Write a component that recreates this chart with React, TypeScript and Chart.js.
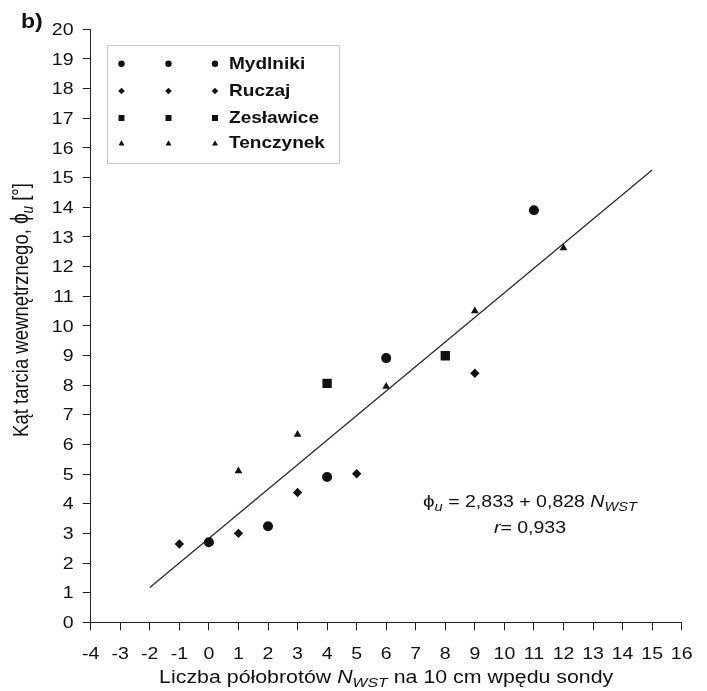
import React, { useEffect, useRef } from "react";
import { Chart, registerables } from "chart.js";

Chart.register(...registerables);

// ---- data ----
const MYDLNIKI_X = [0, 2, 4, 6, 11];
const MYDLNIKI_Y = [2.7, 3.24, 4.9, 8.91, 13.9];
const RUCZAJ_X = [-1, 1, 3, 5, 9];
const RUCZAJ_Y = [2.64, 3.0, 4.38, 5.01, 8.4];
const ZESLAWICE_X = [4, 8];
const ZESLAWICE_Y = [8.06, 8.99];
const TENCZYNEK_X = [1, 3, 6, 9, 12];
const TENCZYNEK_Y = [5.1, 6.33, 7.95, 10.5, 12.62];

const SERIES_NAMES = ["Mydlniki", "Ruczaj", "Zesławice", "Tenczynek"];
const FIT_INTERCEPT = 2.833;
const FIT_SLOPE = 0.828;
const FIT_X_RANGE = [-2, 15];

const X_MIN = -4;
const X_MAX = 16;
const Y_MIN = 0;
const Y_MAX = 20;

const FONT = "'Liberation Sans', Arial, sans-serif";
const INK = "#111";
const STRETCH = 1.22;

const pts = (xs: number[], ys: number[]) => xs.map((x, i) => ({ x, y: ys[i] }));

type Seg = { t: string; size: number; italic?: boolean; bold?: boolean; dy?: number };

function segFont(s: Seg) {
  return `${s.italic ? "italic " : ""}${s.bold ? "bold " : ""}${s.size}px ${FONT}`;
}

// draws segments centred on cx, alphabetic baseline at by, horizontally stretched by sx
function drawRich(ctx: CanvasRenderingContext2D, segs: Seg[], cx: number, by: number, sx: number) {
  let total = 0;
  for (const s of segs) {
    ctx.font = segFont(s);
    total += ctx.measureText(s.t).width;
  }
  ctx.save();
  ctx.translate(cx - (total * sx) / 2, by);
  ctx.scale(sx, 1);
  ctx.textBaseline = "alphabetic";
  ctx.textAlign = "left";
  let x = 0;
  for (const s of segs) {
    ctx.font = segFont(s);
    ctx.fillText(s.t, x, s.dy || 0);
    x += ctx.measureText(s.t).width;
  }
  ctx.restore();
}

function drawText(
  ctx: CanvasRenderingContext2D,
  t: string,
  x: number,
  by: number,
  font: string,
  align: CanvasTextAlign,
  sx: number
) {
  ctx.save();
  ctx.translate(x, by);
  ctx.scale(sx, 1);
  ctx.font = font;
  ctx.textAlign = align;
  ctx.textBaseline = "alphabetic";
  ctx.fillText(t, 0, 0);
  ctx.restore();
}

function drawMarker(ctx: CanvasRenderingContext2D, style: string, x: number, y: number, r: number) {
  ctx.beginPath();
  if (style === "circle") {
    ctx.arc(x, y, r, 0, Math.PI * 2);
  } else if (style === "rectRot") {
    ctx.moveTo(x, y - r);
    ctx.lineTo(x + r, y);
    ctx.lineTo(x, y + r);
    ctx.lineTo(x - r, y);
    ctx.closePath();
  } else if (style === "rect") {
    ctx.rect(x - r, y - r, 2 * r, 2 * r);
  } else {
    ctx.moveTo(x, y - r * 1.1);
    ctx.lineTo(x + r, y + r * 0.7);
    ctx.lineTo(x - r, y + r * 0.7);
    ctx.closePath();
  }
  ctx.fill();
}

const annotationsPlugin = {
  id: "annotations",
  afterDraw(chart: any) {
    const ctx: CanvasRenderingContext2D = chart.ctx;
    const area = chart.chartArea;
    const xs = chart.scales.x;
    const ys = chart.scales.y;
    ctx.save();
    ctx.fillStyle = INK;

    // tick labels (positions from the chart's scales)
    const tickFont = `16px ${FONT}`;
    for (const t of xs.ticks) {
      const px = xs.getPixelForValue(t.value);
      drawText(ctx, String(t.value), px, 659, tickFont, "center", STRETCH);
    }
    for (const t of ys.ticks) {
      const py = ys.getPixelForValue(t.value);
      drawText(ctx, String(t.value), 73.5, py + 5.7, tickFont, "right", STRETCH);
    }

    // panel label
    drawText(ctx, "b)", 21, 27.5, `bold 21px ${FONT}`, "left", 1.1);

    // legend box
    const lx = 107, ly = 45, lw = 232, lh = 118;
    ctx.fillStyle = "#fff";
    ctx.fillRect(lx, ly, lw, lh);
    ctx.strokeStyle = "#c8c8c8";
    ctx.lineWidth = 1;
    ctx.strokeRect(lx + 0.5, ly + 0.5, lw, lh);
    ctx.fillStyle = INK;
    const styles = ["circle", "rectRot", "rect", "triangle"];
    const sizes = [3.2, 3.3, 3.0, 3];
    const rowsY = [63.8, 91, 118, 143.5];
    const baseY = [69.3, 96, 123.3, 148.3];
    const colsX = [121.5, 168.5, 215];
    for (let i = 0; i < 4; i++) {
      for (const cx of colsX) drawMarker(ctx, styles[i], cx, rowsY[i], sizes[i]);
      drawText(ctx, SERIES_NAMES[i], 229, baseY[i], `bold 17px ${FONT}`, "left", 1.12);
    }

    // equation
    drawRich(
      ctx,
      [
        { t: "ϕ", size: 17 },
        { t: "u", size: 12, italic: true, dy: 4 },
        { t: " = 2,833 + 0,828 ", size: 16 },
        { t: "N", size: 16, italic: true },
        { t: "WST", size: 12, italic: true, dy: 4 },
      ],
      530,
      507,
      STRETCH
    );
    drawRich(
      ctx,
      [
        { t: "r", size: 16, italic: true },
        { t: "= 0,933", size: 16 },
      ],
      530,
      533,
      STRETCH
    );

    // x title
    drawRich(
      ctx,
      [
        { t: "Liczba półobrotów ", size: 17.5 },
        { t: "N", size: 17.5, italic: true },
        { t: "WST", size: 13, italic: true, dy: 4 },
        { t: " na 10 cm wpędu sondy", size: 17.5 },
      ],
      (area.left + area.right) / 2,
      683,
      STRETCH
    );

    // y title
    ctx.save();
    ctx.translate(28, 310);
    ctx.scale(STRETCH, 1);
    ctx.rotate(-Math.PI / 2);
    drawRich(
      ctx,
      [
        { t: "Kąt tarcia wewnętrznego, ", size: 18.5 },
        { t: "ϕ", size: 19 },
        { t: "u", size: 13.5, italic: true, dy: 4 },
        { t: " [°]", size: 18.5 },
      ],
      0,
      0,
      1
    );
    ctx.restore();

    ctx.restore();
  },
};

export default function App() {
  const ref = useRef<HTMLCanvasElement | null>(null);

  useEffect(() => {
    if (!ref.current) return;
    const fitPts = FIT_X_RANGE.map((x) => ({ x, y: FIT_INTERCEPT + FIT_SLOPE * x }));
    const chart = new Chart(ref.current, {
      type: "scatter",
      data: {
        datasets: [
          {
            label: "fit",
            data: fitPts,
            showLine: true,
            borderColor: "#2a2a2a",
            borderWidth: 1.3,
            pointRadius: 0,
            order: 5,
          } as any,
          {
            label: SERIES_NAMES[0],
            data: pts(MYDLNIKI_X, MYDLNIKI_Y),
            pointStyle: "circle",
            pointRadius: 5,
            backgroundColor: INK,
            borderColor: INK,
            borderWidth: 0,
          },
          {
            label: SERIES_NAMES[1],
            data: pts(RUCZAJ_X, RUCZAJ_Y),
            pointStyle: "rectRot",
            pointRadius: 4.7,
            backgroundColor: INK,
            borderColor: INK,
            borderWidth: 0,
          },
          {
            label: SERIES_NAMES[2],
            data: pts(ZESLAWICE_X, ZESLAWICE_Y),
            pointStyle: "rect",
            pointRadius: 6.6,
            backgroundColor: INK,
            borderColor: INK,
            borderWidth: 0,
          },
          {
            label: SERIES_NAMES[3],
            data: pts(TENCZYNEK_X, TENCZYNEK_Y),
            pointStyle: "triangle",
            pointRadius: 4.5,
            backgroundColor: INK,
            borderColor: INK,
            borderWidth: 0,
          },
        ],
      },
      options: {
        responsive: false,
        animation: false,
        devicePixelRatio: 1,
        layout: { padding: { left: 0, top: 29.3, right: 25.3, bottom: 0 } },
        plugins: {
          legend: { display: false },
          tooltip: { enabled: false },
          title: { display: false },
        },
        scales: {
          x: {
            type: "linear",
            min: X_MIN,
            max: X_MAX,
            afterFit: (s: any) => {
              s.height = 68.7;
            },
            ticks: {
              stepSize: 1,
              autoSkip: false,
              maxRotation: 0,
              display: false,
            },
            grid: {
              drawOnChartArea: false,
              drawTicks: true,
              tickLength: 8,
              tickColor: "#222",
              tickWidth: 1,
            },
            border: { display: true, color: "#222", width: 1 },
          },
          y: {
            type: "linear",
            min: Y_MIN,
            max: Y_MAX,
            afterFit: (s: any) => {
              s.width = 90.7;
            },
            ticks: {
              stepSize: 1,
              autoSkip: false,
              display: false,
            },
            grid: {
              drawOnChartArea: false,
              drawTicks: true,
              tickLength: 8,
              tickColor: "#222",
              tickWidth: 1,
            },
            border: { display: true, color: "#222", width: 1 },
          },
        },
      } as any,
      plugins: [annotationsPlugin],
    });
    return () => chart.destroy();
  }, []);

  return (
    <div style={{ position: "absolute", left: 0, top: 0, width: 707, height: 691, background: "#fff" }}>
      <canvas ref={ref} width={707} height={691} style={{ display: "block", width: 707, height: 691 }} />
    </div>
  );
}
